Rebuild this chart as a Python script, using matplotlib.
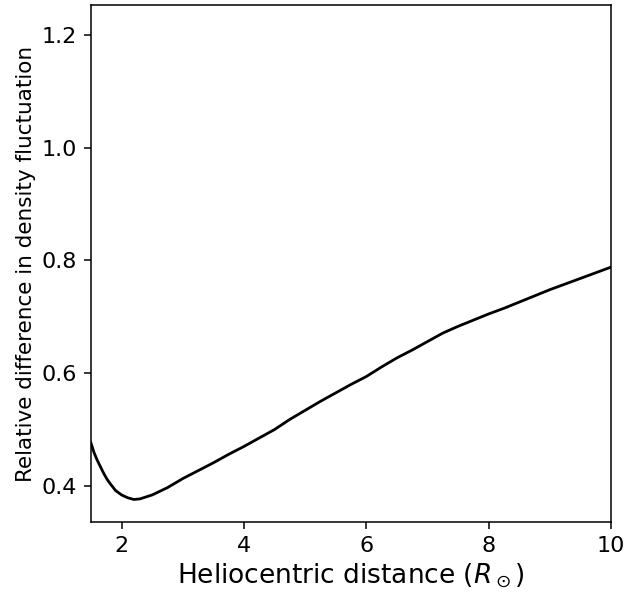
import matplotlib
matplotlib.use("Agg")
import matplotlib.pyplot as plt

# Valeurs
distance = [1.5, 1.55, 1.6, 1.7, 1.75, 1.8, 1.9, 2.0, 2.1, 2.2, 2.3, 2.5, 2.75,
            3.0, 3.25, 3.5, 3.75, 4.0, 4.25, 4.5, 4.75, 5.0, 5.25, 5.5, 5.75,
            6.0, 6.25, 6.5, 6.75, 7.0, 7.25, 7.5, 7.75, 8.0, 8.25, 8.5, 8.75,
            9.0, 9.25, 9.5, 9.75, 10.0]
difference = [0.476, 0.459, 0.446, 0.424, 0.414, 0.406, 0.392, 0.384, 0.379,
              0.376, 0.377, 0.384, 0.397, 0.413, 0.427, 0.441, 0.456, 0.470,
              0.485, 0.500, 0.518, 0.534, 0.550, 0.565, 0.580, 0.594, 0.611,
              0.627, 0.641, 0.656, 0.671, 0.683, 0.694, 0.705, 0.715, 0.726,
              0.737, 0.748, 0.758, 0.768, 0.778, 0.788]

fig = plt.figure(figsize=(6.25, 5.93), dpi=100)
ax = fig.add_axes([0.1456, 0.1197, 0.832, 0.872])

ax.plot(distance, difference, color='black', lw=2)

ax.set_xlim(1.5, 10)
ax.set_ylim(0.336, 1.253)
ax.set_xticks([2, 4, 6, 8, 10])
ax.set_yticks([0.4, 0.6, 0.8, 1.0, 1.2])
ax.tick_params(labelsize=16, length=5, width=1.1, pad=5)
for s in ax.spines.values():
    s.set_linewidth(1.1)
ax.set_xlabel(r'Heliocentric distance ($R_\odot$)', fontsize=19)
ax.set_ylabel('Relative difference in density fluctuation', fontsize=15.5)

fig.savefig('out.png', dpi=100)
